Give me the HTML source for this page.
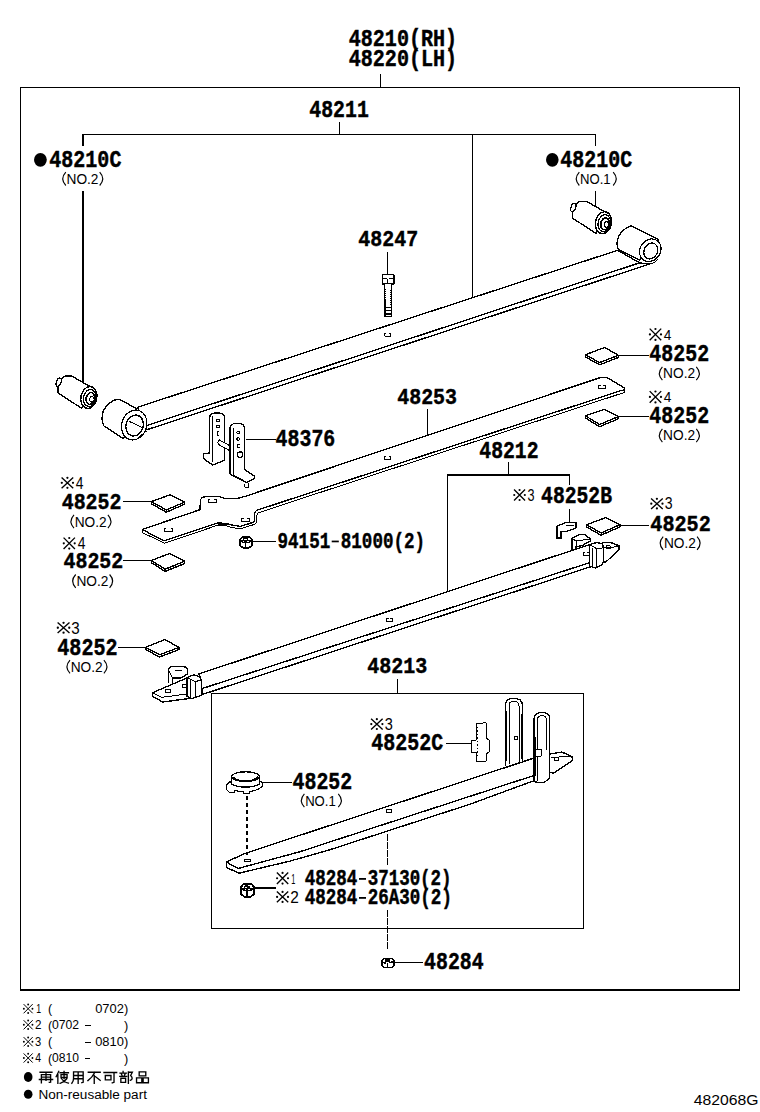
<!DOCTYPE html><html><head><meta charset="utf-8"><title>48210</title><style>html,body{margin:0;padding:0;background:#fff;width:760px;height:1112px;overflow:hidden}svg{display:block}text{stroke:none}text[font-family="Liberation Mono"]{stroke:#000;stroke-width:0.45px}</style></head><body><svg width="760" height="1112" viewBox="0 0 760 1112"><rect width="760" height="1112" fill="#fff"/><rect x="20" y="87" width="1" height="904" fill="#000" stroke="none"/><rect x="739" y="87" width="1" height="904" fill="#000" stroke="none"/><rect x="20" y="87" width="720" height="1" fill="#000" stroke="none"/><rect x="20" y="989" width="720" height="2" fill="#000" stroke="none"/><rect x="380" y="74" width="1" height="14" fill="#000" stroke="none"/><rect x="82" y="134" width="514" height="1" fill="#000" stroke="none"/><rect x="339" y="122" width="1" height="13" fill="#000" stroke="none"/><rect x="82" y="134" width="2" height="12" fill="#000" stroke="none"/><rect x="82" y="191" width="2" height="192" fill="#000" stroke="none"/><rect x="595" y="134" width="1" height="12" fill="#000" stroke="none"/><rect x="595" y="191" width="1" height="16" fill="#000" stroke="none"/><rect x="472" y="134" width="1" height="165" fill="#000" stroke="none"/><rect x="387" y="252" width="1" height="24" fill="#000" stroke="none"/><rect x="246" y="439" width="30" height="1" fill="#000" stroke="none"/><rect x="427" y="409" width="1" height="26" fill="#000" stroke="none"/><rect x="508" y="462" width="1" height="13" fill="#000" stroke="none"/><rect x="447" y="474" width="123" height="2" fill="#000" stroke="none"/><rect x="447" y="474" width="1" height="117" fill="#000" stroke="none"/><rect x="569" y="474" width="1" height="11" fill="#000" stroke="none"/><rect x="569" y="509" width="1" height="14" fill="#000" stroke="none"/><rect x="397" y="679" width="1" height="15" fill="#000" stroke="none"/><rect x="211" y="693" width="373" height="1" fill="#000" stroke="none"/><rect x="211" y="928" width="373" height="1" fill="#000" stroke="none"/><rect x="211" y="693" width="1" height="236" fill="#000" stroke="none"/><rect x="583" y="693" width="1" height="236" fill="#000" stroke="none"/><rect x="618" y="355" width="31" height="1" fill="#000" stroke="none"/><rect x="618" y="416" width="31" height="1" fill="#000" stroke="none"/><rect x="620" y="525" width="29" height="1" fill="#000" stroke="none"/><rect x="123" y="501" width="29" height="1" fill="#000" stroke="none"/><rect x="123" y="560" width="29" height="1" fill="#000" stroke="none"/><rect x="118" y="647" width="28" height="1" fill="#000" stroke="none"/><rect x="250" y="541" width="26" height="1" fill="#000" stroke="none"/><rect x="446" y="743" width="26" height="1" fill="#000" stroke="none"/><rect x="262" y="782" width="30" height="1" fill="#000" stroke="none"/><rect x="254" y="887" width="22" height="2" fill="#000" stroke="none"/><rect x="394" y="962" width="29" height="1" fill="#000" stroke="none"/><g stroke="#000" stroke-width="1.35" stroke-linejoin="round" stroke-linecap="round" shape-rendering="crispEdges"><polygon points="145.5,425.9 639.7,262.8 649,264.2 147,429.7" fill="#fff"/><polygon points="137.4,407.3 617.6,250.3 639.7,262.8 145.5,425.9" fill="#fff"/><path d="M386.3 333 L384.5 333 L384.5 336 L390.5 336 L390.5 333 L388.7 333" fill="none" stroke-width="1"/><path d="M659,240 L631,226 C626,227 618,233 617,242.6 C617,246 617.5,248 618.4,249.5 L639.6,260.1 Z" fill="#fff" stroke-width="1.35"/><ellipse cx="650.3" cy="250.2" rx="11.8" ry="10.2" fill="#fff" transform="rotate(-55 650.3 250.2)" stroke-width="1.2"/><ellipse cx="650.8" cy="251" rx="8.2" ry="6.6" fill="none" transform="rotate(-62 650.8 251)" stroke-width="1.35"/><path d="M649,264 C653,263.5 656,262 658,259" fill="none" stroke-width="1"/><path d="M136.4,408.4 L119,399.2 C114,399 106,404 103,412 C101.5,418 102,423 104,426 L123.6,438.8 Z" fill="#fff" stroke-width="1.35"/><ellipse cx="134.2" cy="425" rx="15.2" ry="12.4" fill="#fff" transform="rotate(-72 134.2 425)" stroke-width="1.2"/><ellipse cx="134.6" cy="425.5" rx="10.6" ry="8.6" fill="none" transform="rotate(-72 134.6 425.5)" stroke-width="1.35"/><path d="M129,421.3 L142,427.3" fill="none" stroke-width="1"/><path d="M138.3,437.9 C141,436 143,433 147,430.8" fill="none" stroke-width="1"/><path d="M93.8,388.7 L71.7,376 L65.5,376 C62.4,377 58,381.5 58,385.5 L58,393 L81.5,408.2 Z" fill="#fff" stroke-width="1.35"/><ellipse cx="58.7" cy="382.3" rx="2.3" ry="4.3" fill="#fff" transform="rotate(20 58.7 382.3)" stroke-width="1.3"/><ellipse cx="88.9" cy="397.5" rx="8" ry="11" fill="#fff" transform="rotate(12 88.9 397.5)" stroke-width="1.35"/><ellipse cx="89.7" cy="398" rx="6.2" ry="8.6" fill="none" transform="rotate(12 89.7 398)" stroke-width="1.3"/><ellipse cx="90.4" cy="398.5" rx="4.2" ry="6" fill="none" transform="rotate(12 90.4 398.5)" stroke-width="1.6"/><ellipse cx="91.9" cy="399.3" rx="2.2" ry="2.8" fill="#fff" stroke-width="1"/><path d="M608.4,213.9 L586.3,201.2 L580.1,201.2 C577,202.2 572.6,206.7 572.6,210.7 L572.6,218.2 L596.1,233.4 Z" fill="#fff" stroke-width="1.35"/><ellipse cx="573.3" cy="207.5" rx="2.3" ry="4.3" fill="#fff" transform="rotate(20 573.3 207.5)" stroke-width="1.3"/><ellipse cx="603.5" cy="222.7" rx="8" ry="11" fill="#fff" transform="rotate(12 603.5 222.7)" stroke-width="1.35"/><ellipse cx="604.3" cy="223.2" rx="6.2" ry="8.6" fill="none" transform="rotate(12 604.3 223.2)" stroke-width="1.3"/><ellipse cx="605" cy="223.7" rx="4.2" ry="6" fill="none" transform="rotate(12 605 223.7)" stroke-width="1.6"/><ellipse cx="606.5" cy="224.5" rx="2.2" ry="2.8" fill="#fff" stroke-width="1"/><path d="M382.3,274.7 L393.9,274.7 L393.9,283.9 L382.3,283.9 Z" fill="#fff" stroke-width="1.3"/><path d="M383.5,278.5 L386,278.5 M389.5,278.5 L392.7,278.5 M387.6,280 L387.6,283.9" fill="none" stroke-width="1.35"/><path d="M384.4,283.9 L384.4,316.5 L391.7,316.5 L391.7,283.9" fill="#fff" stroke-width="1.3"/><path d="M384.4,289 L386,289 M390.2,290 L391.7,290 M384.4,291 L386,291 M390.2,292 L391.7,292 M384.4,293 L386,293 M390.2,294 L391.7,294 M384.4,295 L386,295 M390.2,296 L391.7,296 M384.4,297 L386,297 M390.2,298 L391.7,298 M384.4,299 L386,299 M390.2,300 L391.7,300 M384.4,301 L386,301 M390.2,302 L391.7,302 M384.4,303 L386,303 M390.2,304 L391.7,304 " fill="none" stroke-width="1"/><path d="M385,300 L385,316 M385,307.5 L391,307.5 M385,310.8 L391,310.8 M385,314 L391,314" fill="none" stroke-width="1.35"/><path d="M209.7,453 L209.7,418 C209.7,414 213,413 216,413 L219,413 C222,413 224.5,415 224.5,418 L224.5,460.3 L215.3,464 L212.5,465 L203.3,458.4 L203.3,453.8 Z" fill="#fff" stroke-width="1.35"/><path d="M212.5,416 L212.5,462" fill="none" stroke-width="1"/><ellipse cx="218" cy="420.2" rx="1.5" ry="1.3" fill="none" stroke-width="1"/><ellipse cx="218" cy="426.2" rx="1.5" ry="1.3" fill="none" stroke-width="1"/><path d="M219,431.7 L217,431.7 L217,435.9 L219,435.9" fill="none" stroke-width="1"/><path d="M219.5,440 L231,446.3 L231,451.3 L219.5,445 C217.5,444 217,441 219.5,440 Z" fill="#fff" stroke-width="1"/><path d="M230,474 L230,428 C230,425 233,423.4 236,423.4 L239,423.4 C242,423.4 244.3,425 244.3,428 L244.3,469.5 L254.4,476 L254.4,478.7 L246.6,482.4 L243.8,481.4 Z" fill="#fff" stroke-width="1.35"/><path d="M233,428 L233,475 L243,480" fill="none" stroke-width="1"/><ellipse cx="238.3" cy="432.6" rx="1.5" ry="1.3" fill="none" stroke-width="1"/><ellipse cx="238.3" cy="439" rx="1.5" ry="1.3" fill="none" stroke-width="1"/><path d="M239.3,444.6 L237.3,444.6 L237.3,447.4 L239.3,447.4" fill="none" stroke-width="1"/><ellipse cx="240.1" cy="454.7" rx="2.8" ry="2.8" fill="none" stroke-width="1.2"/><path d="M244.5,484 L244.5,487 L248.5,487 L248.5,483" fill="none" stroke-width="1"/><path d="M142.3,529.5 L142.3,532.6 L164.8,543.2 L215.7,525.9 L218.6,525.4 L226.5,525.9 L231.4,527.4 L240.3,528.8 L251.2,525.4 C253.5,525 256.5,523.5 256.8,521 L256.8,515 C257,513.5 258.5,512.6 260,512.2 L624.5,392.4 L624.5,389.7" fill="#fff" stroke-width="1"/><path d="M142.3,529.5 L199.9,509.7 L200.5,499.8 C201.5,497.5 203.5,496.8 205.8,496.8 L219.6,496.8 C221.5,496.8 223,498 224.5,498.3 L236.4,498.8 L245.3,496.3 L601.4,377.2 L606.4,377.2 L624.1,387.7 L624.5,389.7 L621,390.6 L257.1,510.2 C255.5,511 254.6,512.3 254.6,513.6 L254.6,520.5 C254.2,522 252.8,522.7 251.2,523 L240.3,526.4 L231.4,525 L226.5,523.5 L218.6,523 L215.7,523.5 L164.1,540.9 Z" fill="#fff" stroke-width="1.35"/><path d="M218.6,524.2 L226.5,524.7" fill="none" stroke-width="2.2"/><path d="M166.2 528 L164.4 528 L164.4 531.2 L172.4 531.2 L172.4 528 L170.6 528" fill="none" stroke-width="1"/><path d="M210 499.4 L208.2 499.4 L208.2 502.6 L216.2 502.6 L216.2 499.4 L214.4 499.4" fill="none" stroke-width="1"/><path d="M243.3 518.4 L241.5 518.4 L241.5 521.6 L249.5 521.6 L249.5 518.4 L247.7 518.4" fill="none" stroke-width="1"/><path d="M386.4 456 L384.6 456 L384.6 459.2 L390.6 459.2 L390.6 456 L388.8 456" fill="none" stroke-width="1"/><path d="M600.05 385.4 L598.25 385.4 L598.25 388.6 L605.75 388.6 L605.75 385.4 L603.95 385.4" fill="none" stroke-width="1"/><polygon points="585.5,354.7 585.5,356.9 599.5,364.8 618.4,357.5 618.4,355.3 599.5,362.6" fill="#fff"/><polygon points="585.5,354.7 604.7,347.4 618.4,355.3 599.5,362.6" fill="#fff"/><polygon points="585.5,415.8 585.5,418 599.5,426.7 618.4,418.8 618.4,416.6 599.5,424.5" fill="#fff"/><polygon points="585.5,415.8 604,409.5 618.4,416.6 599.5,424.5" fill="#fff"/><polygon points="586.6,524.7 586.6,526.9 601,535.2 620,526.9 620,524.7 601,533" fill="#fff"/><polygon points="586.6,524.7 605.8,517.6 620,524.7 601,533" fill="#fff"/><polygon points="151.5,501.6 151.5,503.8 166.3,512.2 184.7,504.2 184.7,502 166.3,510" fill="#fff"/><polygon points="151.5,501.6 170.3,494.7 184.7,502 166.3,510" fill="#fff"/><polygon points="151.5,560.5 151.5,562.7 165,571.4 184.7,563.5 184.7,561.3 165,569.2" fill="#fff"/><polygon points="151.5,560.5 169.7,553.4 184.7,561.3 165,569.2" fill="#fff"/><polygon points="145.3,647.4 145.3,649.6 159.7,656.9 179,649.6 179,647.4 159.7,654.7" fill="#fff"/><polygon points="145.3,647.4 165,639.5 179,647.4 159.7,654.7" fill="#fff"/><path d="M242.64 536.8 L249.36 536.8 L252 539.55 L252 545.6 L249 547.8 L243 547.8 L240 545.6 L240 539.55 Z" fill="#fff" stroke-width="1.6"/><path d="M240.8 541.25 C243.6 542.95 248.4 542.95 251.2 541.25 C248.4 540.15 243.6 540.15 240.8 541.25" fill="none" stroke-width="1.4"/><ellipse cx="245.4" cy="539.88" rx="2.16" ry="1.32" fill="none" stroke-width="1.3"/><path d="M245.4 542.75 L245.4 547.8" fill="none" stroke-width="1.3"/><polygon points="202,688.6 595.3,560.8 596.3,564.9 202,694.6" fill="#fff"/><polygon points="199,673.9 589,544.8 595.3,560.8 202,688.6" fill="#fff"/><path d="M388.1 618.5 L386.3 618.5 L386.3 621.5 L392.3 621.5 L392.3 618.5 L390.5 618.5" fill="none" stroke-width="1"/><path d="M585.1 552.2 L583.3 552.2 L583.3 555.2 L589.3 555.2 L589.3 552.2 L587.5 552.2" fill="none" stroke-width="1"/><path d="M168.5,682.6 L168.5,670 C168.5,667.5 171,666.5 174,666.5 L182,666.5 C185,666.5 187.4,668 187.4,670.5 L187.4,674 L181,678 L172.5,678 L172.5,682" fill="#fff" stroke-width="1.35"/><path d="M172.5,678 L168.5,670 M175,670 L182,670" fill="none" stroke-width="1"/><path d="M186.9,678 L152.4,692.8 L152.8,696.4 L162.5,702 L191,698.3 L192,693.2 Z" fill="#fff" stroke-width="1.35"/><path d="M152.4,692.8 L161.6,697.4 L192,693.2" fill="none" stroke-width="1"/><path d="M167.55 689.9 L165.75 689.9 L165.75 692.9 L170.25 692.9 L170.25 689.9 L168.45 689.9" fill="none" stroke-width="1"/><path d="M184.15 684.4 L182.35 684.4 L182.35 687.4 L186.85 687.4 L186.85 684.4 L185.05 684.4" fill="none" stroke-width="1"/><path d="M186.9,677.6 L193.8,674.8 L200.3,677.1 L201.2,679.9 L201.2,695.5 L192,698.5 L186.9,696 Z" fill="#fff" stroke-width="1.35"/><path d="M186.9,677.6 L195.2,681.7 L201.2,679.9 M195.2,681.7 L195.2,698 M190,680 L190,697" fill="none" stroke-width="1"/><path d="M572.1,549.5 L572.1,538.4 L579.5,534.7 L584.7,534.7 L590.5,539 L590.5,541 L581.6,545.8 L576,546.5 L576,549" fill="#fff" stroke-width="1.35"/><path d="M572.1,538.4 L576,541 L590.5,539 M576,541 L576,547" fill="none" stroke-width="1"/><path d="M602.6,542.6 L611,542.6 L619,545.8 L619,549.5 L605.8,562.1 L600,562 Z" fill="#fff" stroke-width="1.35"/><path d="M603.5,547.9 L612,547.5 L619,545.8" fill="none" stroke-width="1"/><path d="M608.45 545.9 L606.65 545.9 L606.65 548.9 L610.15 548.9 L610.15 545.9 L608.35 545.9" fill="none" stroke-width="1"/><path d="M589.5,544.7 L596.3,542.6 L602.6,543.7 L603.2,547.9 L603.2,562 L601.6,565.3 L595.3,567.9 L589.5,566 Z" fill="#fff" stroke-width="1.35"/><path d="M589.5,544.7 L596.3,548.4 L603.2,547.9 M596.3,548.4 L596.3,567.5 M592.5,548 L592.5,566" fill="none" stroke-width="1"/><path d="M557,526 L566,522.5 L576,522.5 L576,528 L566,531.5 L561,531.5 L561,538 L557,538 Z" fill="#fff" stroke-width="1.35"/><path d="M566,525 L574,525" fill="none" stroke-width="1"/><polygon points="226.3,862.1 238.4,868.4 300,851.7 470,796.3 536.7,774.6 536,780 510,789.5 470,804.2 330,849.7 290,861.1 239,873.2 226.3,867.4" fill="#fff"/><polygon points="244.2,853.7 533.6,758.2 536.7,774.6 470,796.3 300,851.7 238.4,868.4 226.3,862.1" fill="#fff"/><path d="M388.55 809.5 L386.75 809.5 L386.75 812.5 L391.25 812.5 L391.25 809.5 L389.45 809.5" fill="none" stroke-width="1"/><path d="M244.2,859 L250.5,859 L250.5,861.5 L244.2,861.5 Z" fill="none" stroke-width="1"/><path d="M505.6,765 L505.6,705 C505.6,700.5 509,698.4 513.5,698.4 C518.5,698.4 522.4,700.5 522.4,705 L522.4,761.6" fill="#fff" stroke-width="1.35"/><path d="M509,764 L509,706 C509,703 511,701.2 513.5,701.2 C516.5,701.2 519,703 519,706 L519,762" fill="none" stroke-width="1"/><path d="M506.5,712 L506.5,760 M521.5,715 L521.5,758" fill="none" stroke-width="1.4"/><path d="M516.6 736.6 L514.8 736.6 L514.8 739.6 L517.8 739.6 L517.8 736.6 L516 736.6" fill="none" stroke-width="1"/><path d="M549.8,754 L562.1,752.1 L572.7,757.1 L572.7,760.5 L553.2,773.3 L549.8,772 Z" fill="#fff" stroke-width="1.35"/><path d="M551,758 L563,756.5 L572.7,757.1" fill="none" stroke-width="1"/><path d="M556.3 757.9 L554.5 757.9 L554.5 760.9 L558.5 760.9 L558.5 757.9 L556.7 757.9" fill="none" stroke-width="1"/><path d="M534.1,781.7 L534.1,719 C534.1,714.5 537.5,712.4 542,712.4 C546.5,712.4 549.8,714.5 549.8,719 L549.8,777.2 C547,781 545,782.8 541,782.8 Z" fill="#fff" stroke-width="1.35"/><path d="M537.5,781 L537.5,720 C537.5,717 539.5,715.5 542,715.5 C544.5,715.5 546.5,717 546.5,720 L546.5,750" fill="none" stroke-width="1"/><path d="M535,738 L535,775" fill="none" stroke-width="1.5"/><path d="M535.8,749.8 L541.4,749.8 L541.4,756 L535.8,756 Z" fill="#fff" stroke-width="1"/><path d="M476,724 L486,722.6 L486,738 L489,740 L489,752 L486,754 L486,761 L476,761.6 L476,752 L471.2,752 L471.2,740 L476,740 Z" fill="#fff" stroke-width="1"/><path d="M477.5,727 L477.5,758" fill="none" stroke-width="1" stroke-dasharray="1 2.5"/><path d="M229.5,782 C227,784 226.3,785.5 226.3,787 L226.3,789.5 L229.5,792.3 L234,792.5 L235,790.6 C238,791.3 241,791.6 243,791.6 L243.5,793.8 L249,793.8 L249.8,791.5 C254,791 258,789.8 261,787.5 C263,786 263,783.5 261,781.5 Z" fill="#fff" stroke-width="1.2"/><path d="M231.8,777 L231.8,784.1 C235,786.3 240,787.1 245.6,787.1 C251,787.1 256.5,786.2 259.5,784 L259.5,777 Z" fill="#fff" stroke-width="1.3"/><ellipse cx="245.6" cy="776.6" rx="13.8" ry="4.8" fill="#fff" stroke-width="1.3"/><path d="M233.5,777.5 C237,780.5 241,781.3 245.6,781.3 C250,781.3 254,780.5 257.5,777" fill="none" stroke-width="1.6"/><path d="M247,796 L247,855" stroke-width="1.2" stroke-dasharray="4 3" fill="none"/><path d="M387.5,835 L387.5,866 M387.5,911 L387.5,951" stroke-width="1.1" stroke-dasharray="5 3" fill="none"/><path d="M243.86 883.8 L251.14 883.8 L254 887.05 L254 894.2 L250.75 896.8 L244.25 896.8 L241 894.2 L241 887.05 Z" fill="#fff" stroke-width="1.6"/><path d="M241.8 889.15 C244.9 890.85 250.1 890.85 253.2 889.15 C250.1 888.05 244.9 888.05 241.8 889.15" fill="none" stroke-width="1.4"/><ellipse cx="246.85" cy="887.44" rx="2.34" ry="1.56" fill="none" stroke-width="1.3"/><path d="M246.85 890.65 L246.85 896.8" fill="none" stroke-width="1.3"/><path d="M384.5,958.3 L391.8,958.3 L393.8,960 L393.8,966 L391.8,967.6 L384.5,967.6 L382.2,966 L382.2,960 Z" fill="#fff" stroke-width="1.5"/><path d="M385.7,959.8 L389.3,959.8 L389.3,961.6 L385.7,961.6 Z" fill="#000" stroke-width="1"/><path d="M382.5,962.6 L385,963 M390,962.4 L393.5,961.8 M387.5,963.5 L387.5,967.3" fill="none" stroke-width="1.4"/></g><g fill="#000" stroke="#000"><text x="348.70" y="45.70" font-family="Liberation Mono" font-weight="bold" font-size="24.15" textLength="108.43" lengthAdjust="spacingAndGlyphs">48210(RH)</text><text x="348.70" y="66.20" font-family="Liberation Mono" font-weight="bold" font-size="23.70" textLength="108.43" lengthAdjust="spacingAndGlyphs">48220(LH)</text><text x="309.31" y="116.80" font-family="Liberation Mono" font-weight="bold" font-size="23.70" textLength="59.49" lengthAdjust="spacingAndGlyphs">48211</text><text x="49.30" y="166.70" font-family="Liberation Mono" font-weight="bold" font-size="24.00" textLength="72.11" lengthAdjust="spacingAndGlyphs">48210C</text><ellipse cx="40.4" cy="159.8" rx="6.4" ry="6.9" fill="#000" stroke="none"/><path d="M65.80 172.20 Q59.70 178.85 65.80 185.50" fill="none" stroke-width="1.15"/><path d="M99.70 172.20 Q105.80 178.85 99.70 185.50" fill="none" stroke-width="1.15"/><text x="66.50" y="183.80" font-family="Liberation Sans" font-weight="normal" font-size="14.24" textLength="31.97" lengthAdjust="spacingAndGlyphs">NO.2</text><text x="560.30" y="166.80" font-family="Liberation Mono" font-weight="bold" font-size="24.15" textLength="71.91" lengthAdjust="spacingAndGlyphs">48210C</text><ellipse cx="552.3" cy="159.8" rx="6.3" ry="6.9" fill="#000" stroke="none"/><path d="M579.30 172.20 Q573.20 178.85 579.30 185.50" fill="none" stroke-width="1.15"/><path d="M613.20 172.20 Q619.30 178.85 613.20 185.50" fill="none" stroke-width="1.15"/><text x="580.05" y="183.80" font-family="Liberation Sans" font-weight="normal" font-size="14.24" textLength="30.63" lengthAdjust="spacingAndGlyphs">NO.1</text><text x="358.30" y="245.50" font-family="Liberation Mono" font-weight="bold" font-size="22.96" textLength="59.80" lengthAdjust="spacingAndGlyphs">48247</text><path d="M649.69 328.64L661.21 340.25M661.21 328.64L649.69 340.25" stroke-width="1.35" fill="none"/><circle cx="655.45" cy="329.00" r="1.11" stroke="none" fill="#000"/><circle cx="655.45" cy="339.90" r="1.11" stroke="none" fill="#000"/><circle cx="649.90" cy="334.45" r="1.11" stroke="none" fill="#000"/><circle cx="661.00" cy="334.45" r="1.11" stroke="none" fill="#000"/><text x="663.83" y="339.70" font-family="Liberation Sans" font-weight="normal" font-size="15.43" textLength="7.60" lengthAdjust="spacingAndGlyphs">4</text><text x="649.30" y="360.80" font-family="Liberation Mono" font-weight="bold" font-size="24.15" textLength="59.80" lengthAdjust="spacingAndGlyphs">48252</text><path d="M662.40 366.80 Q656.30 373.45 662.40 380.10" fill="none" stroke-width="1.15"/><path d="M696.30 366.80 Q702.40 373.45 696.30 380.10" fill="none" stroke-width="1.15"/><text x="663.10" y="378.40" font-family="Liberation Sans" font-weight="normal" font-size="14.24" textLength="31.97" lengthAdjust="spacingAndGlyphs">NO.2</text><path d="M649.69 391.14L661.21 402.75M661.21 391.14L649.69 402.75" stroke-width="1.35" fill="none"/><circle cx="655.45" cy="391.50" r="1.11" stroke="none" fill="#000"/><circle cx="655.45" cy="402.40" r="1.11" stroke="none" fill="#000"/><circle cx="649.90" cy="396.95" r="1.11" stroke="none" fill="#000"/><circle cx="661.00" cy="396.95" r="1.11" stroke="none" fill="#000"/><text x="663.83" y="402.20" font-family="Liberation Sans" font-weight="normal" font-size="15.43" textLength="7.60" lengthAdjust="spacingAndGlyphs">4</text><text x="649.30" y="423.30" font-family="Liberation Mono" font-weight="bold" font-size="24.15" textLength="59.80" lengthAdjust="spacingAndGlyphs">48252</text><path d="M662.40 428.80 Q656.30 435.45 662.40 442.10" fill="none" stroke-width="1.15"/><path d="M696.30 428.80 Q702.40 435.45 696.30 442.10" fill="none" stroke-width="1.15"/><text x="663.10" y="440.40" font-family="Liberation Sans" font-weight="normal" font-size="14.24" textLength="31.97" lengthAdjust="spacingAndGlyphs">NO.2</text><text x="397.30" y="403.70" font-family="Liberation Mono" font-weight="bold" font-size="22.67" textLength="59.70" lengthAdjust="spacingAndGlyphs">48253</text><text x="275.60" y="445.80" font-family="Liberation Mono" font-weight="bold" font-size="23.41" textLength="59.70" lengthAdjust="spacingAndGlyphs">48376</text><text x="479.31" y="457.60" font-family="Liberation Mono" font-weight="bold" font-size="23.41" textLength="59.28" lengthAdjust="spacingAndGlyphs">48212</text><path d="M514.05 489.60L525.05 500.40M525.05 489.60L514.05 500.40" stroke-width="1.35" fill="none"/><circle cx="519.55" cy="489.96" r="1.06" stroke="none" fill="#000"/><circle cx="519.55" cy="500.04" r="1.06" stroke="none" fill="#000"/><circle cx="514.26" cy="495.00" r="1.06" stroke="none" fill="#000"/><circle cx="524.84" cy="495.00" r="1.06" stroke="none" fill="#000"/><text x="527.49" y="500.70" font-family="Liberation Sans" font-weight="normal" font-size="16.00" textLength="7.03" lengthAdjust="spacingAndGlyphs">3</text><text x="541.11" y="503.20" font-family="Liberation Mono" font-weight="bold" font-size="23.41" textLength="70.89" lengthAdjust="spacingAndGlyphs">48252B</text><path d="M651.09 498.38L662.71 508.92M662.71 498.38L651.09 508.92" stroke-width="1.35" fill="none"/><circle cx="656.90" cy="498.81" r="1.12" stroke="none" fill="#000"/><circle cx="656.90" cy="508.49" r="1.12" stroke="none" fill="#000"/><circle cx="651.31" cy="503.65" r="1.12" stroke="none" fill="#000"/><circle cx="662.49" cy="503.65" r="1.12" stroke="none" fill="#000"/><text x="664.74" y="509.30" font-family="Liberation Sans" font-weight="normal" font-size="16.00" textLength="7.84" lengthAdjust="spacingAndGlyphs">3</text><text x="650.30" y="530.50" font-family="Liberation Mono" font-weight="bold" font-size="22.96" textLength="60.42" lengthAdjust="spacingAndGlyphs">48252</text><path d="M663.20 536.60 Q657.10 543.25 663.20 549.90" fill="none" stroke-width="1.15"/><path d="M697.10 536.60 Q703.20 543.25 697.10 549.90" fill="none" stroke-width="1.15"/><text x="663.90" y="548.20" font-family="Liberation Sans" font-weight="normal" font-size="14.24" textLength="31.97" lengthAdjust="spacingAndGlyphs">NO.2</text><path d="M61.59 477.40L73.21 488.20M73.21 477.40L61.59 488.20" stroke-width="1.35" fill="none"/><circle cx="67.40" cy="477.81" r="1.12" stroke="none" fill="#000"/><circle cx="67.40" cy="487.79" r="1.12" stroke="none" fill="#000"/><circle cx="61.81" cy="482.80" r="1.12" stroke="none" fill="#000"/><circle cx="72.99" cy="482.80" r="1.12" stroke="none" fill="#000"/><text x="75.72" y="488.80" font-family="Liberation Sans" font-weight="normal" font-size="17.14" textLength="7.71" lengthAdjust="spacingAndGlyphs">4</text><text x="61.70" y="508.70" font-family="Liberation Mono" font-weight="bold" font-size="22.96" textLength="59.80" lengthAdjust="spacingAndGlyphs">48252</text><path d="M74.00 514.90 Q67.90 521.55 74.00 528.20" fill="none" stroke-width="1.15"/><path d="M107.90 514.90 Q114.00 521.55 107.90 528.20" fill="none" stroke-width="1.15"/><text x="74.70" y="526.50" font-family="Liberation Sans" font-weight="normal" font-size="14.24" textLength="31.97" lengthAdjust="spacingAndGlyphs">NO.2</text><path d="M63.57 537.63L74.93 548.97M74.93 537.63L63.57 548.97" stroke-width="1.35" fill="none"/><circle cx="69.25" cy="537.99" r="1.10" stroke="none" fill="#000"/><circle cx="69.25" cy="548.61" r="1.10" stroke="none" fill="#000"/><circle cx="63.79" cy="543.30" r="1.10" stroke="none" fill="#000"/><circle cx="74.71" cy="543.30" r="1.10" stroke="none" fill="#000"/><text x="77.72" y="549.00" font-family="Liberation Sans" font-weight="normal" font-size="15.71" textLength="7.71" lengthAdjust="spacingAndGlyphs">4</text><text x="63.50" y="568.40" font-family="Liberation Mono" font-weight="bold" font-size="22.96" textLength="59.70" lengthAdjust="spacingAndGlyphs">48252</text><path d="M75.70 574.50 Q69.60 581.15 75.70 587.80" fill="none" stroke-width="1.15"/><path d="M109.60 574.50 Q115.70 581.15 109.60 587.80" fill="none" stroke-width="1.15"/><text x="76.40" y="586.10" font-family="Liberation Sans" font-weight="normal" font-size="14.24" textLength="31.97" lengthAdjust="spacingAndGlyphs">NO.2</text><text x="277.53" y="548.40" font-family="Liberation Mono" font-weight="bold" font-size="22.81" textLength="147.58" lengthAdjust="spacingAndGlyphs">94151 81000(2)</text><rect x="331.7" y="540.6" width="7.1" height="1.7" stroke="none"/><path d="M57.61 622.39L69.49 633.11M69.49 622.39L57.61 633.11" stroke-width="1.35" fill="none"/><circle cx="63.55" cy="622.83" r="1.15" stroke="none" fill="#000"/><circle cx="63.55" cy="632.67" r="1.15" stroke="none" fill="#000"/><circle cx="57.83" cy="627.75" r="1.15" stroke="none" fill="#000"/><circle cx="69.27" cy="627.75" r="1.15" stroke="none" fill="#000"/><text x="71.29" y="633.50" font-family="Liberation Sans" font-weight="normal" font-size="16.14" textLength="8.43" lengthAdjust="spacingAndGlyphs">3</text><text x="57.30" y="654.70" font-family="Liberation Mono" font-weight="bold" font-size="23.26" textLength="60.21" lengthAdjust="spacingAndGlyphs">48252</text><path d="M70.00 660.10 Q63.90 666.75 70.00 673.40" fill="none" stroke-width="1.15"/><path d="M103.90 660.10 Q110.00 666.75 103.90 673.40" fill="none" stroke-width="1.15"/><text x="70.70" y="671.70" font-family="Liberation Sans" font-weight="normal" font-size="14.24" textLength="31.97" lengthAdjust="spacingAndGlyphs">NO.2</text><text x="367.30" y="673.30" font-family="Liberation Mono" font-weight="bold" font-size="22.67" textLength="60.01" lengthAdjust="spacingAndGlyphs">48213</text><path d="M371.09 718.79L382.61 729.41M382.61 718.79L371.09 729.41" stroke-width="1.35" fill="none"/><circle cx="376.85" cy="719.20" r="1.11" stroke="none" fill="#000"/><circle cx="376.85" cy="729.00" r="1.11" stroke="none" fill="#000"/><circle cx="371.30" cy="724.10" r="1.11" stroke="none" fill="#000"/><circle cx="382.40" cy="724.10" r="1.11" stroke="none" fill="#000"/><text x="384.72" y="729.80" font-family="Liberation Sans" font-weight="normal" font-size="16.00" textLength="8.08" lengthAdjust="spacingAndGlyphs">3</text><text x="371.30" y="750.00" font-family="Liberation Mono" font-weight="bold" font-size="23.70" textLength="72.01" lengthAdjust="spacingAndGlyphs">48252C</text><text x="292.50" y="789.20" font-family="Liberation Mono" font-weight="bold" font-size="23.70" textLength="59.70" lengthAdjust="spacingAndGlyphs">48252</text><path d="M304.40 793.90 Q298.30 800.55 304.40 807.20" fill="none" stroke-width="1.15"/><path d="M338.30 793.90 Q344.40 800.55 338.30 807.20" fill="none" stroke-width="1.15"/><text x="305.15" y="805.50" font-family="Liberation Sans" font-weight="normal" font-size="14.24" textLength="30.63" lengthAdjust="spacingAndGlyphs">NO.1</text><path d="M276.87 872.53L288.23 883.97M288.23 872.53L276.87 883.97" stroke-width="1.35" fill="none"/><circle cx="282.55" cy="872.89" r="1.10" stroke="none" fill="#000"/><circle cx="282.55" cy="883.61" r="1.10" stroke="none" fill="#000"/><circle cx="277.09" cy="878.25" r="1.10" stroke="none" fill="#000"/><circle cx="288.01" cy="878.25" r="1.10" stroke="none" fill="#000"/><text x="291.35" y="884.00" font-family="Liberation Sans" font-weight="normal" font-size="14.29" textLength="4.09" lengthAdjust="spacingAndGlyphs">1</text><text x="304.69" y="885.00" font-family="Liberation Mono" font-weight="bold" font-size="21.48" textLength="146.92" lengthAdjust="spacingAndGlyphs">48284 37130(2)</text><rect x="359" y="878" width="7" height="1.8" stroke="none"/><path d="M276.87 891.50L288.23 902.30M288.23 891.50L276.87 902.30" stroke-width="1.35" fill="none"/><circle cx="282.55" cy="891.89" r="1.10" stroke="none" fill="#000"/><circle cx="282.55" cy="901.91" r="1.10" stroke="none" fill="#000"/><circle cx="277.09" cy="896.90" r="1.10" stroke="none" fill="#000"/><circle cx="288.01" cy="896.90" r="1.10" stroke="none" fill="#000"/><text x="290.23" y="902.90" font-family="Liberation Sans" font-weight="normal" font-size="15.71" textLength="8.56" lengthAdjust="spacingAndGlyphs">2</text><text x="304.69" y="904.00" font-family="Liberation Mono" font-weight="bold" font-size="21.48" textLength="147.22" lengthAdjust="spacingAndGlyphs">48284 26A30(2)</text><rect x="359" y="897" width="7" height="1.8" stroke="none"/><text x="424.11" y="969.40" font-family="Liberation Mono" font-weight="bold" font-size="24.00" textLength="59.50" lengthAdjust="spacingAndGlyphs">48284</text></g><g fill="#000" stroke="#000"><path d="M23.62 1004.11L32.68 1013.29M32.68 1004.11L23.62 1013.29" stroke-width="1.00" fill="none"/><circle cx="28.15" cy="1004.46" r="0.95" stroke="none" fill="#000"/><circle cx="28.15" cy="1012.95" r="0.95" stroke="none" fill="#000"/><circle cx="23.86" cy="1008.70" r="0.95" stroke="none" fill="#000"/><circle cx="32.45" cy="1008.70" r="0.95" stroke="none" fill="#000"/><text x="36.34" y="1013.10" font-family="Liberation Sans" font-weight="normal" font-size="12.14" textLength="4.86" lengthAdjust="spacingAndGlyphs">1</text><text x="47.95" y="1013.40" font-family="Liberation Sans" font-weight="normal" font-size="12.14" textLength="4.15" lengthAdjust="spacingAndGlyphs">(</text><path d="M23.62 1020.21L32.68 1029.39M32.68 1020.21L23.62 1029.39" stroke-width="1.00" fill="none"/><circle cx="28.15" cy="1020.56" r="0.95" stroke="none" fill="#000"/><circle cx="28.15" cy="1029.05" r="0.95" stroke="none" fill="#000"/><circle cx="23.86" cy="1024.80" r="0.95" stroke="none" fill="#000"/><circle cx="32.45" cy="1024.80" r="0.95" stroke="none" fill="#000"/><text x="34.92" y="1029.20" font-family="Liberation Sans" font-weight="normal" font-size="12.14" textLength="6.48" lengthAdjust="spacingAndGlyphs">2</text><text x="47.95" y="1029.50" font-family="Liberation Sans" font-weight="normal" font-size="12.14" textLength="4.15" lengthAdjust="spacingAndGlyphs">(</text><path d="M23.62 1037.11L32.68 1046.29M32.68 1037.11L23.62 1046.29" stroke-width="1.00" fill="none"/><circle cx="28.15" cy="1037.45" r="0.95" stroke="none" fill="#000"/><circle cx="28.15" cy="1045.94" r="0.95" stroke="none" fill="#000"/><circle cx="23.86" cy="1041.70" r="0.95" stroke="none" fill="#000"/><circle cx="32.45" cy="1041.70" r="0.95" stroke="none" fill="#000"/><text x="35.05" y="1046.10" font-family="Liberation Sans" font-weight="normal" font-size="12.14" textLength="6.21" lengthAdjust="spacingAndGlyphs">3</text><text x="47.95" y="1046.40" font-family="Liberation Sans" font-weight="normal" font-size="12.14" textLength="4.15" lengthAdjust="spacingAndGlyphs">(</text><path d="M23.62 1053.41L32.68 1062.59M32.68 1053.41L23.62 1062.59" stroke-width="1.00" fill="none"/><circle cx="28.15" cy="1053.76" r="0.95" stroke="none" fill="#000"/><circle cx="28.15" cy="1062.25" r="0.95" stroke="none" fill="#000"/><circle cx="23.86" cy="1058.00" r="0.95" stroke="none" fill="#000"/><circle cx="32.45" cy="1058.00" r="0.95" stroke="none" fill="#000"/><text x="35.29" y="1062.40" font-family="Liberation Sans" font-weight="normal" font-size="12.14" textLength="5.84" lengthAdjust="spacingAndGlyphs">4</text><text x="47.95" y="1062.70" font-family="Liberation Sans" font-weight="normal" font-size="12.14" textLength="4.15" lengthAdjust="spacingAndGlyphs">(</text><text x="95.18" y="1013.10" font-family="Liberation Sans" font-weight="normal" font-size="12.29" textLength="33.03" lengthAdjust="spacingAndGlyphs">0702)</text><text x="52.01" y="1029.20" font-family="Liberation Sans" font-weight="normal" font-size="12.14" textLength="27.09" lengthAdjust="spacingAndGlyphs">0702</text><rect x="85" y="1025" width="6" height="1" fill="#000" stroke="none"/><text x="123.94" y="1029.50" font-family="Liberation Sans" font-weight="normal" font-size="12.14" textLength="4.27" lengthAdjust="spacingAndGlyphs">)</text><rect x="85" y="1042" width="6" height="1" fill="#000" stroke="none"/><text x="95.18" y="1046.10" font-family="Liberation Sans" font-weight="normal" font-size="12.29" textLength="33.03" lengthAdjust="spacingAndGlyphs">0810)</text><text x="52.02" y="1062.40" font-family="Liberation Sans" font-weight="normal" font-size="12.14" textLength="26.90" lengthAdjust="spacingAndGlyphs">0810</text><rect x="85" y="1058" width="5" height="1" fill="#000" stroke="none"/><text x="123.94" y="1062.70" font-family="Liberation Sans" font-weight="normal" font-size="12.14" textLength="4.27" lengthAdjust="spacingAndGlyphs">)</text><ellipse cx="28.2" cy="1077" rx="4.3" ry="5" fill="#000" stroke="none"/><ellipse cx="28.2" cy="1094.3" rx="4.3" ry="4.5" fill="#000" stroke="none"/><text x="38.42" y="1098.70" font-family="Liberation Sans" font-weight="normal" font-size="13.52" textLength="108.52" lengthAdjust="spacingAndGlyphs">Non-reusable part</text><text x="693.69" y="1104.80" font-family="Liberation Sans" font-weight="normal" font-size="15.43" textLength="64.69" lengthAdjust="spacingAndGlyphs">482068G</text><path d="M0.05,0.08 L0.95,0.08 M0.15,0.28 L0.15,0.95 M0.15,0.28 L0.85,0.28 L0.85,0.9 L0.75,0.92 M0.5,0.08 L0.5,0.75 M0.25,0.48 L0.75,0.48 M0.0,0.68 L1.0,0.68" transform="translate(39.40 1071.30) scale(13.200 12.000)" fill="none" stroke="#000" stroke-width="1.350" vector-effect="non-scaling-stroke" stroke-linecap="square"/><path d="M0.25,0.0 L0.05,0.45 M0.18,0.28 L0.18,1.0 M0.35,0.12 L0.98,0.12 M0.65,0.0 L0.65,0.6 M0.42,0.28 L0.88,0.28 L0.88,0.52 L0.42,0.52 Z M0.45,0.6 C0.6,0.85 0.8,0.95 0.98,0.98 M0.85,0.62 C0.7,0.85 0.55,0.95 0.35,1.0" transform="translate(55.48 1071.30) scale(13.200 12.000)" fill="none" stroke="#000" stroke-width="1.350" vector-effect="non-scaling-stroke" stroke-linecap="square"/><path d="M0.15,0.05 L0.15,0.6 C0.15,0.8 0.1,0.9 0.02,1.0 M0.15,0.05 L0.88,0.05 L0.88,0.92 L0.78,0.95 M0.15,0.35 L0.88,0.35 M0.15,0.62 L0.88,0.62 M0.5,0.05 L0.5,1.0" transform="translate(71.56 1071.30) scale(13.200 12.000)" fill="none" stroke="#000" stroke-width="1.350" vector-effect="non-scaling-stroke" stroke-linecap="square"/><path d="M0.05,0.08 L0.95,0.08 M0.55,0.08 C0.4,0.4 0.25,0.6 0.02,0.78 M0.5,0.35 L0.5,1.0 M0.6,0.45 L0.95,0.75" transform="translate(87.64 1071.30) scale(13.200 12.000)" fill="none" stroke="#000" stroke-width="1.350" vector-effect="non-scaling-stroke" stroke-linecap="square"/><path d="M0.02,0.1 L0.98,0.1 M0.78,0.1 L0.78,0.92 L0.65,0.96 M0.12,0.35 L0.55,0.35 L0.55,0.72 L0.12,0.72 Z" transform="translate(103.72 1071.30) scale(13.200 12.000)" fill="none" stroke="#000" stroke-width="1.350" vector-effect="non-scaling-stroke" stroke-linecap="square"/><path d="M0.25,0.0 L0.25,0.12 M0.02,0.15 L0.5,0.15 M0.12,0.22 L0.18,0.38 M0.4,0.22 L0.34,0.38 M0.0,0.42 L0.52,0.42 M0.08,0.58 L0.44,0.58 L0.44,0.92 L0.08,0.92 Z M0.65,0.05 L0.65,1.0 M0.65,0.08 L0.95,0.08 L0.82,0.35 C0.98,0.5 0.98,0.7 0.8,0.75" transform="translate(119.80 1071.30) scale(13.200 12.000)" fill="none" stroke="#000" stroke-width="1.350" vector-effect="non-scaling-stroke" stroke-linecap="square"/><path d="M0.25,0.05 L0.75,0.05 L0.75,0.38 L0.25,0.38 Z M0.05,0.55 L0.45,0.55 L0.45,0.95 L0.05,0.95 Z M0.55,0.55 L0.95,0.55 L0.95,0.95 L0.55,0.95 Z" transform="translate(135.88 1071.30) scale(13.200 12.000)" fill="none" stroke="#000" stroke-width="1.350" vector-effect="non-scaling-stroke" stroke-linecap="square"/></g></svg></body></html>
